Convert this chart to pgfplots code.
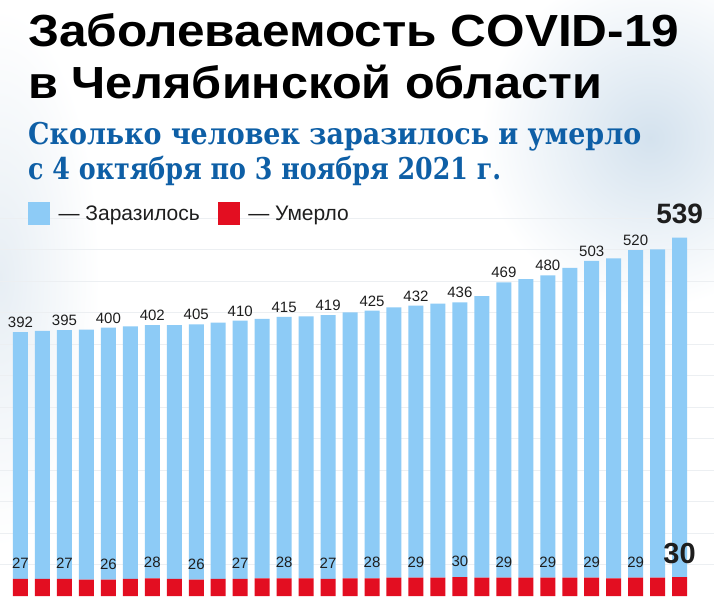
\documentclass[border=0pt]{standalone}
\usepackage{fontspec}
\setmainfont{Liberation Sans}
\newfontfamily\slab{DejaVu Serif}
\usepackage{pgfplots}
\usepackage{pgfplotstable}
\pgfplotsset{compat=1.18}
\definecolor{barblue}{HTML}{8DCBF6}
\definecolor{barred}{HTML}{E30E21}
\definecolor{subblue}{HTML}{0E5FA6}
\definecolor{gridgray}{HTML}{ECEFF2}
\definecolor{txt}{HTML}{1E1E1E}
\definecolor{bgblue}{HTML}{D4E2EE}
\definecolor{bgleft}{HTML}{E7EEF4}
\protected\def\bigA#1{\raisebox{10pt}{\fontsize{28}{30}\selectfont\bfseries #1}}
\protected\def\bigB#1{\raisebox{3.5pt}{\fontsize{29}{30}\selectfont\bfseries #1}}
\pgfplotstableread{
i inf dth linf ldth
0 392 27 392 27
1 394 27 {} {}
2 395 27 395 27
3 397 26 {} {}
4 400 26 400 26
5 401 27 {} {}
6 402 28 402 28
7 403 27 {} {}
8 405 26 405 26
9 407 27 {} {}
10 410 27 410 27
11 412 28 {} {}
12 415 28 415 28
13 416 28 {} {}
14 419 27 419 27
15 422 28 {} {}
16 425 28 425 28
17 429 29 {} {}
18 432 29 432 29
19 435 29 {} {}
20 436 30 436 30
21 447 29 {} {}
22 469 29 469 29
23 474 29 {} {}
24 480 29 480 29
25 492 29 {} {}
26 503 29 503 29
27 508 28 {} {}
28 520 29 520 29
29 521 29 {} {}
30 539 30 \bigA{539} \bigB{30}
}\data
\begin{document}
\begin{tikzpicture}
\useasboundingbox (0,0) rectangle (714pt,608pt);
\begin{scope}
\clip (0,0) rectangle (714pt,608pt);
\fill[white] (0,0) rectangle (714pt,608pt);
\shade[inner color=bgblue, outer color=white] (650pt,470pt) ellipse [x radius=170pt, y radius=170pt];
\shade[inner color=bgleft, outer color=white] (0pt,330pt) ellipse [x radius=100pt, y radius=270pt];
\end{scope}
\begin{axis}[
  at={(0pt,12pt)}, anchor=south west,
  x=21.97pt, y=0.63pt,
  xmin=-0.933, xmax=31.567, ymin=0, ymax=600,
  ybar stacked, bar width=15pt,
  axis line style={draw=none}, tick style={draw=none},
  xtick=\empty, ytick={50,100,...,600}, yticklabels={},
  ymajorgrids, grid style={gridgray, line width=0.8pt},
  clip=false,
]
\addplot[fill=barred, draw=none] table[x=i,y=dth]{\data};
\addplot[fill=barblue, draw=none] table[x=i,y=inf]{\data};
\end{axis}
\begin{axis}[
  at={(0pt,12pt)}, anchor=south west,
  x=21.97pt, y=0.63pt,
  xmin=-0.933, xmax=31.567, ymin=0, ymax=600,
  hide axis, clip=false, stack plots=y,
  legend columns=2, legend cell align=left,
  legend style={at={(0.0392,1.0132)}, anchor=west, draw=none, fill=none,
    inner sep=0pt, font=\fontsize{21}{21}\selectfont, text=txt,
    column sep=9pt, /tikz/every even column/.append style={column sep=18pt},
    nodes={inner sep=0pt, text height=15pt, text depth=0pt}},
]
\addplot[draw=none, mark=none, forget plot,
  point meta=explicit symbolic,
  nodes near coords={\pgfplotspointmeta},
  every node near coord/.append style={anchor=base, inner sep=0pt, yshift=10.5pt,
    font=\fontsize{15}{15}\selectfont, text=txt}]
  table[x=i,y=dth,meta=ldth]{\data};
\addplot[draw=none, mark=none, forget plot,
  point meta=explicit symbolic,
  nodes near coords={\pgfplotspointmeta},
  every node near coord/.append style={anchor=base, inner sep=0pt, yshift=4.5pt,
    font=\fontsize{15}{15}\selectfont, text=txt}]
  table[x=i,y=inf,meta=linf]{\data};
\addlegendimage{legend image code/.code={\fill[barblue] (0pt,-11pt) rectangle (21pt,11pt);}}
\addlegendentry{— Заразилось}
\addlegendimage{legend image code/.code={\fill[barred] (0pt,-11pt) rectangle (21pt,11pt);}}
\addlegendentry{— Умерло}
\end{axis}
\node[anchor=base west, inner sep=0pt, text=black] at (28pt,561.3pt)
  {\resizebox{651pt}{\height}{\fontsize{45}{45}\selectfont\bfseries Заболеваемость COVID-19}};
\node[anchor=base west, inner sep=0pt, text=black] at (28pt,509.7pt)
  {\resizebox{574pt}{\height}{\fontsize{45}{45}\selectfont\bfseries в Челябинской области}};
\node[anchor=base west, inner sep=0pt, text=subblue] at (28pt,463pt)
  {\resizebox{613pt}{\height}{\fontsize{30}{30}\selectfont\slab\bfseries Сколько человек заразилось и умерло}};
\node[anchor=base west, inner sep=0pt, text=subblue] at (28pt,428pt)
  {\resizebox{473pt}{\height}{\fontsize{30}{30}\selectfont\slab\bfseries с 4 октября по 3 ноября 2021 г.}};
\end{tikzpicture}
\end{document}
